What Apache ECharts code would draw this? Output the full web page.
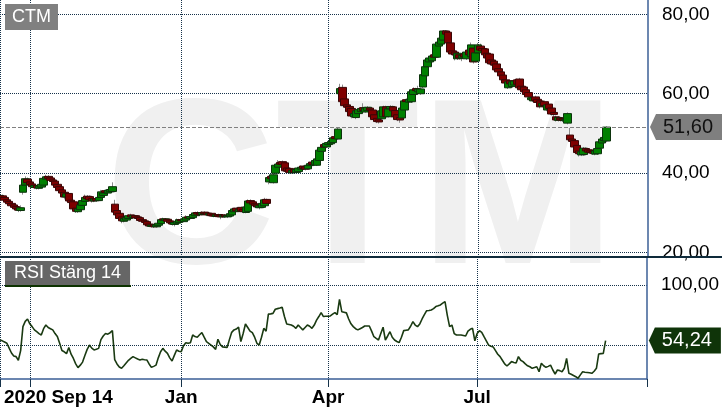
<!DOCTYPE html>
<html><head><meta charset="utf-8">
<script src="https://cdn.jsdelivr.net/npm/echarts@6/dist/echarts.min.js"></script>
<style>html,body{margin:0;padding:0;background:#fff}#c{width:722px;height:411px}</style>
</head><body><div id="c"></div>
<script>
// ---- data ----
const startDate = '2020-09-14';
const categoryCount = 283;
const tickDates = ['2020-09-14', '2020-10-01', '2021-01-01', '2021-04-01', '2021-07-01'];
const tickLabels = ['2020 Sep 14', '', 'Jan', 'Apr', 'Jul'];
const priceTicks = [20, 40, 60, 80];
const rsiTicks = [50, 100];
const rsiLabelTicks = [100];
// [open, close, low, high]
const candles = [
[33.8,34.4,33.4,34.8],[34.3,33.8,33.5,34.6],[33.9,33.2,33.0,34.1],[33.3,32.7,32.4,33.5],[32.9,32.3,32.0,33.1],
[32.4,31.8,31.5,32.6],[32.0,31.4,31.1,32.2],[31.6,31.0,30.5,31.9],[31.2,30.7,30.2,31.5],[30.6,31.3,30.3,31.9],
[35.2,37.0,34.6,37.4],[37.0,38.6,36.8,39.2],[38.5,37.6,37.3,38.9],[37.8,37.1,36.8,38.1],[37.3,36.6,36.3,37.6],
[36.4,36.9,36.0,37.2],[36.9,36.3,35.9,37.1],[36.2,36.8,35.9,37.0],[36.5,37.2,36.3,37.5],[37.0,38.7,36.8,39.0],
[38.5,39.1,38.2,39.6],[39.2,38.7,38.4,39.5],[38.8,38.2,37.9,39.1],[38.3,37.9,37.6,38.6],[38.0,37.0,36.7,38.2],
[37.2,36.4,36.1,37.5],[36.6,35.6,35.3,36.8],[35.8,35.0,34.6,36.0],[35.2,34.0,33.4,35.4],[34.0,34.8,33.8,35.1],
[34.9,33.0,32.6,35.1],[33.2,32.6,32.2,33.5],[32.8,31.0,30.6,33.0],[31.2,30.4,30.0,31.5],[30.3,31.0,30.0,31.3],
[30.8,32.0,30.6,32.3],[31.9,33.1,31.6,33.5],[32.9,33.9,32.7,34.6],[34.2,33.6,33.3,34.5],[34.1,33.3,33.0,34.4],
[33.6,33.0,32.6,33.8],[33.0,33.5,32.7,33.8],[33.6,33.1,32.8,34.0],[33.1,33.9,32.9,34.2],[33.9,35.3,33.7,35.8],
[34.4,35.0,34.1,35.4],[35.6,35.2,34.8,35.9],[35.0,35.7,34.7,36.0],[35.3,35.9,35.0,36.3],[35.4,36.6,35.2,37.7],
[32.2,30.2,29.8,33.3],[30.6,29.5,29.2,30.9],[29.9,28.6,28.3,30.1],[29.0,28.0,27.4,29.2],[27.9,28.6,27.6,28.9],
[28.2,28.8,27.9,29.1],[28.6,29.3,28.4,29.6],[29.5,29.0,28.7,29.8],[28.8,29.3,28.6,29.5],[29.3,28.8,28.5,29.5],
[29.0,28.6,28.3,29.2],[28.8,28.1,27.8,29.0],[28.3,27.9,27.5,28.5],[28.0,27.6,27.2,28.2],[27.8,27.0,26.7,28.0],
[27.2,26.7,26.4,27.4],[26.6,26.9,26.3,27.1],[27.0,26.5,26.2,27.2],[26.5,27.0,26.3,27.2],[26.9,27.4,26.7,27.7],
[27.3,28.3,27.1,28.6],[28.5,28.2,27.9,28.8],[28.1,28.5,27.9,28.7],[28.4,27.9,27.6,28.6],[28.0,27.5,27.1,28.2],
[27.6,27.2,26.8,27.8],[27.1,27.6,26.6,27.9],[27.4,27.9,27.1,28.6],[27.6,28.3,27.4,28.5],[28.3,28.0,27.7,28.6],
[27.8,28.5,27.6,28.8],[28.2,28.9,28.0,29.4],[29.0,28.7,28.4,29.2],[28.6,29.1,28.4,29.3],[28.8,29.6,28.6,29.9],
[29.3,30.0,29.1,30.3],[30.1,29.7,29.4,30.4],[29.9,29.5,29.2,30.2],[29.6,30.1,29.4,30.4],[30.2,29.8,29.5,30.4],
[30.0,29.5,29.2,30.2],[29.5,29.8,29.2,30.0],[29.9,29.3,29.0,30.1],[29.5,29.2,28.9,29.7],[29.1,29.5,28.9,29.7],
[29.6,29.2,28.9,29.8],[29.4,29.0,28.4,29.6],[29.0,29.4,28.8,29.6],[29.5,29.1,28.8,29.7],[29.0,29.3,28.7,29.5],
[29.2,29.8,29.0,30.0],[29.5,30.6,29.3,30.8],[30.3,31.0,30.1,31.3],[31.2,30.5,30.2,31.4],[30.4,30.9,30.2,31.2],
[31.4,30.5,30.2,31.6],[30.9,30.3,29.9,31.1],[30.1,31.5,29.9,31.8],[30.4,33.0,30.2,33.4],[33.1,32.5,32.2,33.4],
[32.8,32.2,31.9,33.0],[32.3,31.8,31.5,32.6],[32.0,31.5,31.2,32.3],[31.3,31.8,30.9,32.1],[31.4,32.4,31.2,32.8],
[31.8,33.3,31.6,33.8],[33.4,32.4,32.1,33.6],[37.8,38.9,37.2,39.4],[39.2,38.6,38.2,39.5],[37.6,39.6,37.4,40.0],
[40.0,42.0,39.8,42.4],[41.5,42.3,41.2,43.3],[42.7,42.3,42.0,43.0],[42.9,42.2,41.8,43.2],[42.6,40.6,40.3,42.9],
[41.3,40.5,40.2,41.6],[41.2,40.2,39.9,41.4],[40.1,40.7,39.9,41.0],[40.9,40.2,39.9,41.1],[40.2,40.9,40.0,41.2],
[40.4,41.3,40.2,41.5],[41.0,41.5,40.8,41.9],[41.8,41.2,40.9,42.0],[41.6,41.0,40.7,41.8],[41.1,42.0,40.9,42.3],
[41.9,42.4,41.7,42.8],[42.8,42.2,41.9,43.1],[42.1,43.2,41.9,43.5],[42.0,43.6,41.8,44.3],[43.2,45.8,43.0,46.2],
[45.5,46.5,45.2,47.0],[47.2,46.6,46.2,47.5],[46.6,47.5,46.3,47.8],[47.2,47.7,46.9,48.0],[47.4,48.0,47.2,48.3],
[47.7,48.9,47.5,49.3],[49.2,48.7,48.4,49.4],[48.6,51.1,48.4,51.4],[60.0,61.3,59.5,62.5],[61.6,58.0,57.6,62.3],
[58.7,57.0,56.5,58.9],[57.2,56.6,56.2,57.5],[56.8,55.5,55.1,57.0],[56.3,54.4,53.8,56.5],[54.2,55.0,53.9,55.3],
[54.0,55.7,53.6,56.0],[55.0,56.0,54.7,56.3],[55.5,56.3,55.2,56.6],[56.5,55.8,55.4,57.6],[55.4,56.4,55.2,56.7],
[55.8,56.6,55.5,56.9],[56.4,55.9,55.5,56.7],[55.9,54.2,53.8,56.1],[54.7,53.5,53.1,55.0],[53.8,53.0,52.6,54.1],
[53.4,52.9,52.5,53.7],[53.7,55.7,53.4,56.0],[54.2,56.7,54.0,57.0],[56.7,54.3,53.9,57.0],[54.2,56.2,54.0,56.5],
[56.2,56.8,55.9,57.1],[56.7,55.7,55.3,57.0],[55.8,54.2,53.5,56.0],[54.7,53.5,53.1,55.0],[54.0,53.4,52.7,54.2],
[53.9,56.4,53.6,56.7],[55.9,58.2,55.6,58.5],[58.5,58.0,57.4,58.8],[57.9,58.6,57.6,59.2],[58.0,60.5,57.7,60.8],
[59.8,61.0,59.4,61.6],[61.3,60.8,60.4,61.5],[60.5,61.2,60.2,62.0],[60.0,61.2,59.7,61.5],[61.7,64.8,61.4,65.1],
[64.5,66.8,64.2,67.2],[66.8,68.5,66.0,68.8],[68.0,69.0,67.3,69.3],[68.3,69.5,68.0,69.9],[69.8,69.2,68.8,70.1],
[69.2,72.5,69.0,72.9],[72.0,73.0,71.7,73.4],[72.5,74.0,72.2,74.3],[73.5,75.8,73.2,76.0],[75.8,75.0,74.6,76.0],
[75.5,72.8,72.5,75.7],[72.8,70.5,70.1,73.0],[70.8,70.0,69.6,71.0],[70.5,69.8,68.4,70.8],[68.8,70.2,68.5,70.5],
[69.8,69.0,68.6,70.1],[69.0,69.6,68.2,69.9],[70.0,69.3,68.9,70.3],[68.8,70.5,68.5,70.8],[71.0,69.8,69.4,71.3],
[69.3,72.3,69.0,72.9],[71.5,68.0,67.6,71.8],[68.2,70.3,67.9,70.6],[70.3,72.3,70.0,72.8],[72.0,71.0,70.6,72.6],
[71.4,70.8,70.4,71.7],[71.3,69.8,69.4,71.6],[70.2,69.0,68.6,70.5],[70.0,67.8,67.3,70.3],[68.5,67.5,67.1,68.8],
[68.2,67.2,66.6,68.5],[67.5,66.0,65.5,67.8],[66.3,65.5,65.1,66.6],[65.5,64.5,64.0,65.8],[64.7,63.5,62.8,65.0],
[63.5,62.7,62.3,63.8],[61.5,63.0,61.2,63.3],[63.3,62.5,62.1,63.6],[61.8,63.0,61.5,63.3],[62.2,63.2,61.9,63.5],
[63.5,62.4,62.0,63.8],[63.7,61.5,61.1,64.0],[61.9,61.0,60.6,62.2],[61.7,60.5,60.1,62.0],[61.0,59.8,59.4,61.3],
[60.3,59.2,58.8,60.6],[58.5,59.0,58.2,59.3],[58.2,59.0,57.9,59.3],[59.2,58.3,57.9,59.5],[58.6,57.8,57.4,58.9],
[58.2,56.7,56.3,58.5],[56.9,57.6,56.6,57.9],[58.0,57.0,56.6,58.3],[55.9,57.2,55.6,57.5],[57.4,56.3,55.9,57.7],
[56.4,54.9,54.5,56.7],[55.3,54.8,54.3,55.6],[54.2,53.4,53.0,54.5],[53.3,54.0,53.0,54.3],[53.9,53.4,53.0,54.2],
[53.7,53.3,52.9,54.0],[53.2,53.5,52.8,53.8],[52.6,55.0,52.3,55.3],[49.6,48.4,48.0,51.4],[48.6,48.0,47.5,48.9],
[48.2,46.6,46.2,48.5],[47.0,45.2,44.8,47.3],[45.6,44.9,44.2,45.9],[44.6,45.4,44.3,45.7],[44.7,46.3,44.4,46.6],
[46.2,45.6,45.2,46.5],[45.9,45.3,44.9,46.2],[45.6,45.2,44.8,45.9],[45.5,45.0,44.6,45.8],[44.8,45.6,44.5,45.9],
[44.9,46.2,44.6,46.5],[46.3,47.9,46.0,48.2],[47.6,48.6,47.3,48.9],[48.2,49.0,47.9,49.3],[48.1,51.6,47.8,51.8]
];
const rsi = [
54.7,54,53,52,48,44,41.5,41,38,46,
65.7,70,72,68,65.7,63,61.5,60,58.8,64,
67,65,64,63,60,57.5,52,46,45,43.5,
48.5,43,39.5,35,32,34,36.5,42,47,50.5,
48,46.5,47,47.8,55,58,60,59.5,60.7,62.4,
38.5,35,32.5,31.5,33.5,35.8,38,39.5,41,40,
39,38.3,38.8,38.5,38.3,35,32.2,33,34,40,
45,47.8,45.5,43.7,40,37.4,42,46.5,45.5,45,
50,52.5,52,52.5,58.8,57.5,57,59,60.7,57,
53.4,52,50.5,49,47,55.3,51,49,48.8,48.5,
55,61,63,63.7,65.3,53.4,60,67.9,65,62,
60.7,57,52,50.5,57,64.3,62,76,76.2,76.6,
80,80.5,81,81.6,74,67.9,67.5,67,66,64.3,
67,65,63,65,67,66,64.3,67,71,74,
77.2,74,74.2,74.3,74.5,76,77.2,75.5,88.2,78,
77.5,77,72,68,65.7,64,63,64,65,66.2,
66.2,66.2,62,57.4,56,54.7,60,65.2,54.7,58,
61.5,57,54.7,53.5,52.5,57,62.4,62.7,63,66,
69.8,67,65.7,67.9,72,75.5,78.8,79,79.4,80.5,
82.2,82.8,83.5,85,86.3,75,65.7,67,60,58.8,
58.8,58.8,58.4,58,62,63.5,64.3,54,60,62.4,
61,57.4,54,50.5,49.5,49,46,43,41,38,
35,33.3,35,36.9,36.2,35.8,41,38,36.9,35,
33.5,32.7,31.4,32,32.7,28.6,35.5,33.5,32.2,33,
34,30,26.7,30,29.5,28.6,31.4,39.6,27.3,26.5,
25.5,24.5,23.2,26,28.6,28.2,28,27.8,27.3,29,
31.4,43.2,43.5,43.7,54.24
];

// ---- build ----
const FONT = 'Liberation Sans, Arial, sans-serif';
const categories = [];
{
  const d = new Date(startDate + 'T00:00:00Z');
  while (categories.length < categoryCount) {
    const wd = d.getUTCDay();
    if (wd !== 0 && wd !== 6) categories.push(d.toISOString().slice(0, 10));
    d.setUTCDate(d.getUTCDate() + 1);
  }
}
const tickIndex = tickDates.map(t => categories.indexOf(t));
const labelAt = {};
tickIndex.forEach((ix, k) => { if (tickLabels[k]) labelAt[ix] = tickLabels[k]; });
const lastIdx = categoryCount - 1;
const lastClose = candles[candles.length - 1][1];
const lastRsi = rsi[rsi.length - 1];
const fmt = v => Number(v).toFixed(2).replace('.', ',');
const bodies = candles.map(([o, c]) => [o, c, Math.min(o, c), Math.max(o, c)]);

const gridLine = { type: 'dotted', color: '#16324a', width: 1 };
const axisBlue = '#3b5f96';

const chart = echarts.init(document.getElementById('c'), null, { renderer: 'canvas' });
chart.setOption({
  animation: false,
  backgroundColor: '#fff',
  textStyle: { fontFamily: FONT },
  title: [
    { text: 'CTM', left: 5, top: 4, backgroundColor: '#808080', padding: [4, 7, 4, 7],
      textStyle: { color: '#fff', fontSize: 18, fontWeight: 'normal', fontFamily: FONT } },
    { text: 'RSI Stäng 14', left: 5, top: 261, backgroundColor: '#666666', padding: [3, 9, 3, 9],
      textStyle: { color: '#fff', fontSize: 18, fontWeight: 'normal', fontFamily: FONT } }
  ],
  graphic: [
    { type: 'text', left: 105, top: 80, z: -10, silent: true,
      style: { text: 'CTM', font: 'bold 236px ' + FONT, fill: '#f0f0f0' } },
    { type: 'rect', left: 5, top: 285, z: 10, silent: true,
      shape: { width: 126, height: 2 }, style: { fill: '#0d3300' } },
    { type: 'line', z: 100, silent: true,
      shape: { x1: 0, y1: 257, x2: 722, y2: 257 }, style: { stroke: '#0e2a3a', lineWidth: 2 } }
  ],
  grid: [
    { left: 0, top: 0, width: 648, height: 257 },
    { left: 0, top: 257, width: 648, height: 122 }
  ],
  xAxis: [
    { gridIndex: 0, type: 'category', data: categories, boundaryGap: false,
      axisLine: { show: false }, axisTick: { show: false }, axisLabel: { show: false },
      splitLine: { show: true, interval: (i) => tickIndex.includes(i), lineStyle: gridLine } },
    { gridIndex: 1, type: 'category', data: categories, boundaryGap: false,
      axisLine: { show: true, lineStyle: { color: axisBlue, width: 1.5 } },
      axisTick: { show: true, length: 8, interval: (i) => tickIndex.includes(i) || i === lastIdx,
        lineStyle: { color: '#16324a', width: 1 } },
      axisLabel: { show: true, interval: (i) => labelAt[i] !== undefined,
        formatter: (v, i) => (i === 0 ? '{f|' + labelAt[i] + '}' : (labelAt[i] || '')),
        rich: { f: { padding: [0, 0, 0, 4], fontSize: 19, fontWeight: 'bold', color: '#000', fontFamily: FONT } },
        alignMinLabel: 'left',
        fontSize: 19, fontWeight: 'bold', color: '#000', margin: 9, fontFamily: FONT },
      splitLine: { show: true, interval: (i) => tickIndex.includes(i), lineStyle: gridLine } }
  ],
  yAxis: [
    { gridIndex: 0, type: 'value', position: 'right', min: 18.9, max: 83.6,
      axisLine: { show: true, lineStyle: { color: axisBlue, width: 1.5 } },
      axisTick: { show: false, customValues: priceTicks },
      axisLabel: { customValues: priceTicks, formatter: fmt, fontSize: 19, color: '#000', margin: 14, fontFamily: FONT },
      splitLine: { show: true, lineStyle: gridLine } },
    { gridIndex: 1, type: 'value', position: 'right', min: 22.6, max: 123,
      axisLine: { show: true, lineStyle: { color: axisBlue, width: 1.5 } },
      axisTick: { show: false, customValues: rsiTicks },
      axisLabel: { customValues: rsiLabelTicks, formatter: fmt, fontSize: 19, color: '#000', margin: 14, fontFamily: FONT },
      splitLine: { show: true, lineStyle: gridLine } }
  ],
  series: [
    { name: 'wick', type: 'candlestick', xAxisIndex: 0, yAxisIndex: 0, data: candles, barWidth: 1,
      silent: true,
      itemStyle: { color: '#8c8c8c', color0: '#8c8c8c', borderColor: '#8c8c8c', borderColor0: '#8c8c8c', borderWidth: 1 } },
    { name: 'CTM', type: 'candlestick', xAxisIndex: 0, yAxisIndex: 0, data: bodies, barWidth: 8,
      silent: true,
      itemStyle: { color: '#008000', color0: '#800000', borderColor: '#0c330c', borderColor0: '#3a0606', borderWidth: 1 },
      markLine: { silent: true, symbol: ['none', 'none'], label: { show: false },
        lineStyle: { type: 'dashed', color: '#808080', width: 1 },
        data: [{ yAxis: lastClose }] },
      markPoint: { silent: true,
        data: [{ coord: [lastIdx, lastClose], symbol: 'path://M0,13L6,0L72,0L72,26L6,26Z',
          symbolSize: [72, 26], symbolKeepAspect: false, symbolOffset: [38, 0],
          itemStyle: { color: '#7f7f7f' },
          label: { show: true, position: 'inside', formatter: fmt(lastClose), fontSize: 20, color: '#111', fontFamily: FONT, offset: [2, 0] } }] } },
    { name: 'RSI', type: 'line', xAxisIndex: 1, yAxisIndex: 1, data: rsi, showSymbol: false, symbol: 'none',
      silent: true,
      lineStyle: { color: '#1a3a12', width: 1.6 },
      markPoint: { silent: true,
        data: [{ coord: [lastIdx, lastRsi], symbol: 'path://M0,13L6,0L72,0L72,26L6,26Z',
          symbolSize: [72, 26], symbolKeepAspect: false, symbolOffset: [38, 0],
          itemStyle: { color: '#0f3409' },
          label: { show: true, position: 'inside', formatter: fmt(lastRsi), fontSize: 20, color: '#fff', fontFamily: FONT, offset: [2, 0] } }] } }
  ]
});
</script></body></html>
